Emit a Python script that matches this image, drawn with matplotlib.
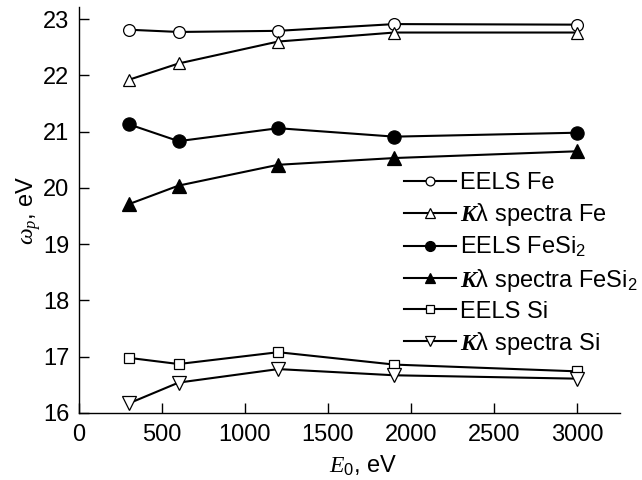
# Plasmon energy vs primary electron energy
import matplotlib
matplotlib.use('Agg')
import matplotlib.pyplot as plt

plt.rcParams['font.family'] = ['Liberation Sans', 'DejaVu Sans']
plt.rcParams['mathtext.fontset'] = 'custom'
plt.rcParams['mathtext.rm'] = 'Liberation Sans'
plt.rcParams['mathtext.it'] = 'Liberation Serif:italic'
plt.rcParams['mathtext.bf'] = 'Liberation Serif:bold:italic'

# data
E0 = [300, 600, 1200, 1900, 3000]
eels_fe = [22.81, 22.77, 22.79, 22.91, 22.90]
klam_fe = [21.92, 22.21, 22.60, 22.76, 22.76]
eels_fesi2 = [21.13, 20.83, 21.06, 20.91, 20.98]
klam_fesi2 = [19.71, 20.04, 20.41, 20.53, 20.65]
eels_si = [16.98, 16.87, 17.08, 16.86, 16.74]
klam_si = [16.17, 16.54, 16.78, 16.67, 16.61]

labels = ['EELS Fe', r'$\mathbf{K}$λ spectra Fe', 'EELS FeSi$_2$',
          r'$\mathbf{K}$λ spectra FeSi$_2$', 'EELS Si', r'$\mathbf{K}$λ spectra Si']
yticks = [16, 17, 18, 19, 20, 21, 22, 23]
xticks = [0, 500, 1000, 1500, 2000, 2500, 3000]

FS = 17


def draw(ax):
    series = [eels_fe, klam_fe, eels_fesi2, klam_fesi2, eels_si, klam_si]
    styles = [('o', 'white', 8.5), ('^', 'white', 9), ('o', 'black', 9.5),
              ('^', 'black', 9.5), ('s', 'white', 7), ('v', 'white', 9.5)]
    for y, (m, fc, ms), lab in zip(series, styles, labels):
        ax.plot(E0, y, color='black', lw=1.5, marker=m, ms=ms,
                mfc=fc, mec='black', mew=0.9, label=lab)


fig = plt.figure(figsize=(6.42, 4.8), dpi=100)
ax = fig.add_axes([0.123, 0.1396, 0.843, 0.8454])
draw(ax)

ax.set_xlim(0, 3260)
ax.set_ylim(16, 23.21)
ax.set_xticks(xticks)
ax.set_yticks(yticks)
ax.spines['top'].set_visible(False)
ax.spines['right'].set_visible(False)
for s in ['left', 'bottom']:
    ax.spines[s].set_linewidth(1.0)
ax.tick_params(axis='both', direction='in', length=7, width=1.0, labelsize=FS)
ax.tick_params(axis='x', pad=8)
ax.tick_params(axis='y', pad=7)

ax.set_xlabel(r'$E_0$, eV', fontsize=FS)
ax.xaxis.set_label_coords(0.525, -0.1)
ax.set_ylabel(r'$\omega_p$, eV', fontsize=FS, labelpad=0)

ax.legend(loc='upper left', bbox_to_anchor=(0.60, 0.594), frameon=False,
          fontsize=FS, handlelength=2.2, handletextpad=0.2,
          labelspacing=0.3, markerscale=0.75, borderpad=0, borderaxespad=0)

fig.savefig('out.png', dpi=100)
